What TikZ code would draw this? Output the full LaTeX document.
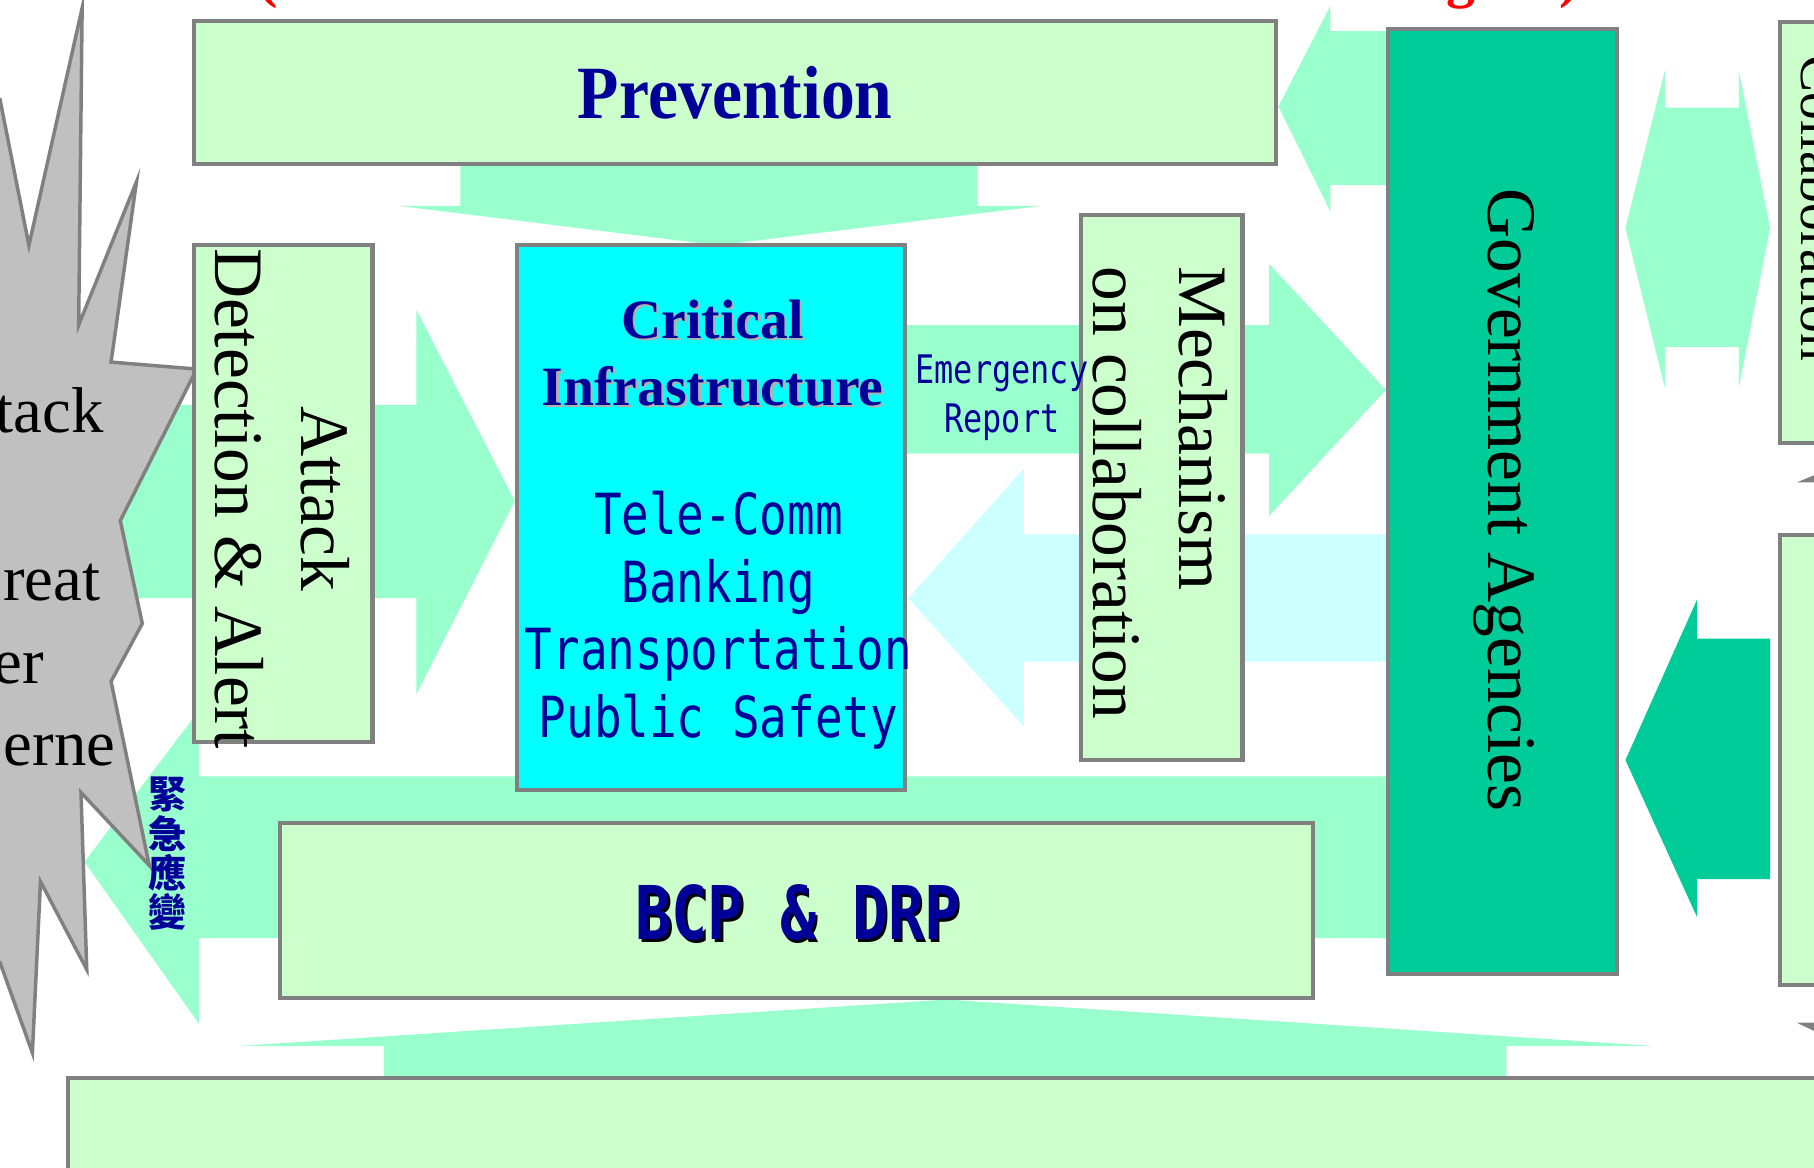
\documentclass[tikz,border=0pt]{standalone}
\usepackage{fontspec}
\setmainfont{Liberation Serif}
\newfontfamily\monofont[FakeStretch=0.81]{DejaVu Sans Mono}
\newfontfamily\prevfont[FakeStretch=0.9]{Liberation Serif}
\newfontfamily\cjkfont{Noto Sans CJK TC}
\definecolor{boxgreen}{HTML}{CCFFCC}
\definecolor{mintgreen}{HTML}{99FFCC}
\definecolor{palecyan}{HTML}{CCFFFF}
\definecolor{cifill}{HTML}{00FFFF}
\definecolor{govgreen}{HTML}{00CC99}
\definecolor{linegray}{HTML}{808080}
\definecolor{burstgray}{HTML}{C0C0C0}
\definecolor{darkblue}{HTML}{000099}
\definecolor{shadegray}{HTML}{B0B0B0}
\begin{document}
\begin{tikzpicture}[x=1pt, y=-1pt,
  box/.style={draw=linegray, line width=3.5pt, fill=boxgreen, inner sep=0pt},
  mint/.style={fill=mintgreen},
  side/.style={rotate=-90, inner sep=0pt, font=\fontsize{60}{74}\selectfont}]
\useasboundingbox (0,0) rectangle (1568,1009);
\clip (0,0) rectangle (1568,1009);
% block arrows
\fill[mint] (398,140) -- (845,140) -- (845,178) -- (900,178) -- (620,212) -- (345,178) -- (398,178) -- cycle;
\fill[mint] (60,350) -- (360,350) -- (360,268) -- (445,433) -- (360,600) -- (360,517) -- (60,517) -- cycle;
\fill[mint] (782,281) -- (1097,281) -- (1097,228) -- (1198,337) -- (1097,446) -- (1097,392) -- (782,392) -- cycle;
\fill[palecyan] (1200,462) -- (885,462) -- (885,405) -- (785,517) -- (885,628) -- (885,572) -- (1200,572) -- cycle;
\fill[mint] (1200,27) -- (1150,27) -- (1150,5) -- (1105,92) -- (1150,183) -- (1150,160) -- (1200,160) -- cycle;
\fill[mint] (1473,93) -- (1439,93) -- (1439,61) -- (1405,197) -- (1439,335) -- (1439,300) -- (1473,300) -- cycle;
\fill[mint] (1473,93) -- (1503,93) -- (1503,61) -- (1530,197) -- (1503,335) -- (1503,300) -- (1473,300) -- cycle;
\fill[govgreen] (1530,552) -- (1467,552) -- (1467,518) -- (1405,657) -- (1467,793) -- (1467,760) -- (1530,760) -- cycle;
\fill[mint] (1200,671) -- (172,671) -- (172,614) -- (73,745) -- (172,885) -- (172,811) -- (1200,811) -- cycle;
\fill[mint] (332,935) -- (332,904) -- (208,904) -- (818,864) -- (1428,904) -- (1302,904) -- (1302,935) -- cycle;
\fill[linegray] (1553,417) -- (1570,410) -- (1570,417) -- cycle;
\fill[linegray] (1553,884) -- (1570,884) -- (1570,892) -- cycle;
% threat burst
\draw[draw=linegray, fill=burstgray, line width=3pt, line join=miter] (-40,86) -- (0,86) -- (25,212) -- (71,7) -- (68,281) -- (118,157) -- (96,313) -- (170,319) -- (104,450) -- (123,539) -- (96,589) -- (129,748) -- (70,685) -- (75,838) -- (35,762) -- (28,910) -- (0,832) -- (-40,832) -- cycle;
\node[anchor=base east, inner sep=0pt, font=\fontsize{56}{72}\selectfont] (b1) at (90,374) {tack};
\node[anchor=base east, inner sep=0pt, font=\fontsize{56}{72}\selectfont] (b2) at (87,519) {reat};
\node[anchor=base east, inner sep=0pt, font=\fontsize{56}{72}\selectfont] (b3) at (38,591) {er};
\node[anchor=base east, inner sep=0pt, font=\fontsize{56}{72}\selectfont] (b4) at (100,662) {erne};
% boxes
\node[box, minimum width=935pt, minimum height=124pt] (prev) at (635.5,80) {};
\node[box, minimum width=154pt, minimum height=429pt] (ada) at (245,426.5) {};
\node[box, fill=cifill, minimum width=335pt, minimum height=471pt] (ci) at (614.5,447.5) {};
\node[box, minimum width=140pt, minimum height=471pt] (mech) at (1004,421.5) {};
\node[box, fill=govgreen, minimum width=198pt, minimum height=817pt] (gov) at (1299,433.5) {};
\node[box, minimum width=893pt, minimum height=152pt] (bcp) at (688.5,787) {};
\node[box, anchor=north west, minimum width=1600pt, minimum height=200pt] (base) at (57,930) {};
\node[box, anchor=north west, minimum width=100pt, minimum height=364pt] (collab) at (1537,17) {};
\node[box, anchor=north west, minimum width=100pt, minimum height=389pt] (rbox) at (1537,461) {};
% texts
\node[text=darkblue, font=\prevfont\bfseries\fontsize{65}{70}\selectfont] (prev-t) at (prev) {Prevention};
\node[side, align=center] (ada-t) at (244,431) {Attack\\Detection \& Alert};
\node[text=shadegray, align=center, font=\bfseries\fontsize{48}{58}\selectfont] at (618,307) {Critical\\Infrastructure};
\node[text=darkblue, align=center, font=\bfseries\fontsize{48}{58}\selectfont] (ci-t) at (616,305) {Critical\\Infrastructure};
\node[text=darkblue, align=center, font=\monofont\fontsize{49}{58.3}\selectfont] (ci-l) at (621,536) {Tele-Comm\\Banking\\Transportation\\Public Safety};
\node[text=darkblue, align=center, font=\monofont\fontsize{34}{42}\selectfont] (er-t) at (866,344) {Emergency\\Report};
\node[side, align=left] (mech-t) at (1003,426) {Mechanism\\on collaboration};
\node[side] (gov-t) at (1300,432) {Government Agencies};
\node[rotate=-90, anchor=base, inner sep=0pt, font=\fontsize{48}{58}\selectfont] (collab-t) at (1557,180) {Collaboration};
\node[text=black, font=\monofont\bfseries\fontsize{64}{70}\selectfont] at (692,791) {BCP \& DRP};
\node[text=darkblue, font=\monofont\bfseries\fontsize{64}{70}\selectfont] (bcp-t) at (690,789) {BCP \& DRP};
\node[text=darkblue, align=center, font=\cjkfont\bfseries\fontsize{33}{34}\selectfont] (ems-t) at (145,738) {緊\\急\\應\\變};
\node[anchor=base, inner sep=0pt, text=red, font=\bfseries\fontsize{50}{60}\selectfont] (top-l) at (232,-3) {(};
\node[anchor=base, inner sep=0pt, text=red, font=\bfseries\fontsize{50}{60}\selectfont] (top-g) at (1263,-3) {g};
\node[anchor=base, inner sep=0pt, text=red, font=\bfseries\fontsize{50}{60}\selectfont] (top-r) at (1356,-3) {)};
\end{tikzpicture}
\end{document}
